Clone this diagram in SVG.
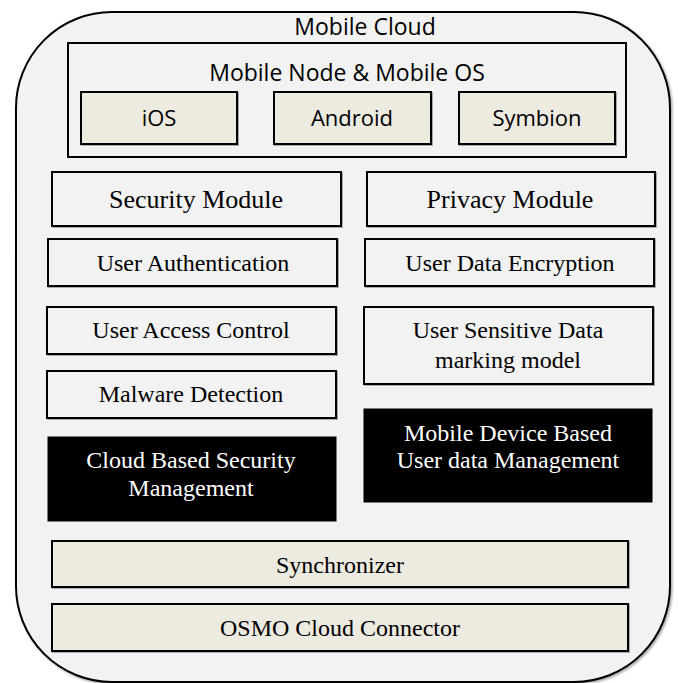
<svg xmlns="http://www.w3.org/2000/svg" width="678" height="683" viewBox="0 0 678 683">
  <defs>
    <filter id="shadow" x="-5%" y="-5%" width="115%" height="115%">
      <feDropShadow dx="1.5" dy="1.5" stdDeviation="1" flood-color="#000" flood-opacity="0.35"/>
    </filter>
    <filter id="boxShadow" x="-5%" y="-10%" width="115%" height="130%">
      <feDropShadow dx="1" dy="1" stdDeviation="0.6" flood-color="#000" flood-opacity="0.3"/>
    </filter>
  </defs>
  <style>
    .frame { fill: #f2f2f2; stroke: #000; stroke-width: 2; }
    .box { fill: #f2f2f2; stroke: #000; stroke-width: 2; }
    .os { fill: #edeae0; stroke: #000; stroke-width: 2; }
    .band { fill: #edeae0; stroke: #000; stroke-width: 2; }
    .dark { fill: #000; stroke: #000; stroke-width: 1; }
    .sans { font-family: "Open Sans", "Noto Sans", sans-serif; fill: #000; text-anchor: middle; }
    .serif { font-family: "Liberation Serif", "Times New Roman", serif; fill: #000; text-anchor: middle; font-size: 24px; }
    .big { font-size: 26px; }
    .light { fill: #fff; }
  </style>

  <!-- outer container -->
  <g id="mobile-cloud">
    <rect class="frame" x="16" y="12" width="654" height="670" rx="96" ry="96" filter="url(#shadow)"/>
    <text class="sans" x="365" y="35" font-size="23">Mobile Cloud</text>
  </g>

  <!-- mobile node with its operating systems -->
  <g id="mobile-node">
    <rect class="box" x="68" y="43" width="558" height="114"/>
    <text class="sans" x="347" y="81" font-size="23">Mobile Node &amp; Mobile OS</text>
  </g>
  <g id="ios">
    <rect class="os" x="81" y="92" width="156" height="52" filter="url(#boxShadow)"/>
    <text class="sans" x="159" y="126" font-size="22">iOS</text>
  </g>
  <g id="android">
    <rect class="os" x="274" y="92" width="157" height="52" filter="url(#boxShadow)"/>
    <text class="sans" x="352" y="126" font-size="22">Android</text>
  </g>
  <g id="symbion">
    <rect class="os" x="459" y="92" width="156" height="52" filter="url(#boxShadow)"/>
    <text class="sans" x="537" y="126" font-size="22">Symbion</text>
  </g>

  <!-- security column -->
  <g id="security-module">
    <rect class="box" x="52" y="172" width="289" height="54" filter="url(#boxShadow)"/>
    <text class="serif big" x="196" y="208">Security Module</text>
  </g>
  <g id="user-authentication">
    <rect class="box" x="48" y="239" width="289" height="47" filter="url(#boxShadow)"/>
    <text class="serif" x="193" y="271">User Authentication</text>
  </g>
  <g id="user-access-control">
    <rect class="box" x="47" y="307" width="289" height="47" filter="url(#boxShadow)"/>
    <text class="serif" x="191" y="338">User Access Control</text>
  </g>
  <g id="malware-detection">
    <rect class="box" x="47" y="371" width="289" height="47" filter="url(#boxShadow)"/>
    <text class="serif" x="191" y="402">Malware Detection</text>
  </g>
  <g id="cloud-security-management">
    <rect class="dark" x="48" y="437" width="288" height="84"/>
    <text class="serif light" x="191" y="468">Cloud Based Security</text>
    <text class="serif light" x="191" y="496">Management</text>
  </g>

  <!-- privacy column -->
  <g id="privacy-module">
    <rect class="box" x="367" y="172" width="288" height="54" filter="url(#boxShadow)"/>
    <text class="serif big" x="510" y="208">Privacy Module</text>
  </g>
  <g id="user-data-encryption">
    <rect class="box" x="365" y="239" width="289" height="47" filter="url(#boxShadow)"/>
    <text class="serif" x="510" y="271">User Data Encryption</text>
  </g>
  <g id="sensitive-data-marking">
    <rect class="box" x="364" y="307" width="289" height="77" filter="url(#boxShadow)"/>
    <text class="serif" x="508" y="338">User Sensitive Data</text>
    <text class="serif" x="508" y="368">marking model</text>
  </g>
  <g id="device-data-management">
    <rect class="dark" x="364" y="409" width="288" height="93"/>
    <text class="serif light" x="508" y="441">Mobile Device Based</text>
    <text class="serif light" x="508" y="468">User data Management</text>
  </g>

  <!-- bottom bands -->
  <g id="synchronizer">
    <rect class="band" x="52" y="541" width="576" height="46" filter="url(#boxShadow)"/>
    <text class="serif" x="340" y="573">Synchronizer</text>
  </g>
  <g id="osmo-cloud-connector">
    <rect class="band" x="52" y="604" width="576" height="47" filter="url(#boxShadow)"/>
    <text class="serif" x="340" y="636">OSMO Cloud Connector</text>
  </g>

  <!-- no connectors in this layout -->
  <g id="connectors"/>
</svg>
